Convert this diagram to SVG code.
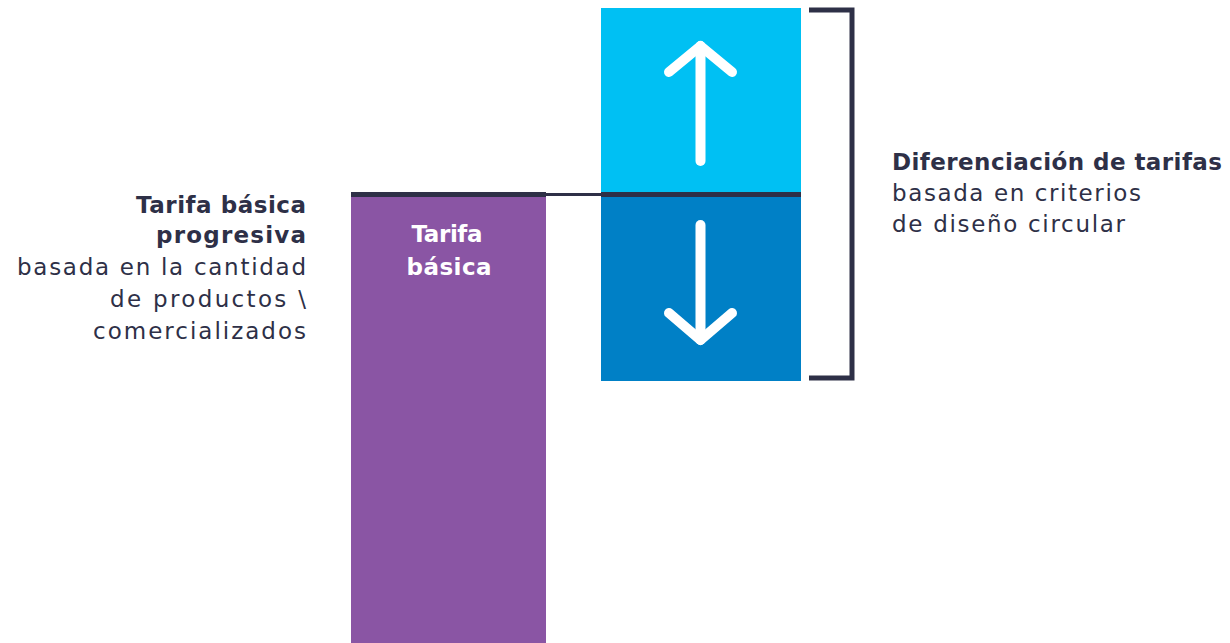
<svg xmlns="http://www.w3.org/2000/svg" width="1230" height="643" viewBox="0 0 1230 643">
<style>
.t{font-family:"DejaVu Sans","Noto Sans",sans-serif;font-size:23px;fill:#2E3047}
.b{font-weight:bold}
.w{fill:#FFFFFF;font-weight:bold}
.arr{fill:none;stroke:#FFFFFF;stroke-width:10;stroke-linecap:round;stroke-linejoin:round}
</style>
<rect width="1230" height="643" fill="#FFFFFF"/>
<g id="basic-bar">
<rect x="351" y="195" width="195" height="448" fill="#8A55A4"/>
<text class="t w" x="447" y="242" text-anchor="middle" textLength="71" lengthAdjust="spacing">Tarifa</text>
<text class="t w" x="449" y="275" text-anchor="middle" textLength="85" lengthAdjust="spacing">básica</text>
</g>
<g id="up-box">
<rect x="601" y="8" width="200" height="186" fill="#00C0F3"/>
<path class="arr" d="M700.5 161V46" stroke-linecap="butt"/>
<path class="arr" d="M669 72L700.5 46L732 72"/>
</g>
<g id="down-box">
<rect x="601" y="194" width="200" height="187" fill="#0080C6"/>
<path class="arr" d="M700.5 225V340" stroke-linecap="butt"/>
<path class="arr" d="M669 313L700.5 340L732 313"/>
</g>
<g id="connectors">
<line x1="351" y1="194.5" x2="546" y2="194.5" stroke="#2E3047" stroke-width="5"/>
<line x1="546" y1="194.5" x2="601" y2="194.5" stroke="#2E3047" stroke-width="3"/>
<line x1="601" y1="194.5" x2="801" y2="194.5" stroke="#2E3047" stroke-width="5"/>
<path d="M809 10H852V378H809" fill="none" stroke="#2E3047" stroke-width="5"/>
</g>
<g id="left-label">
<text class="t b" x="306" y="213" text-anchor="end" textLength="170" lengthAdjust="spacing">Tarifa básica</text>
<text class="t b" x="306" y="243" text-anchor="end" textLength="150" lengthAdjust="spacing">progresiva</text>
<text class="t" x="306" y="275" text-anchor="end" textLength="289" lengthAdjust="spacing">basada en la cantidad</text>
<text class="t" x="306" y="307" text-anchor="end" textLength="196" lengthAdjust="spacing">de productos \</text>
<text class="t" x="306" y="339" text-anchor="end" textLength="213" lengthAdjust="spacing">comercializados</text>
</g>
<g id="right-label">
<text class="t b" x="892" y="170" textLength="330" lengthAdjust="spacing">Diferenciación de tarifas</text>
<text class="t" x="892" y="201" textLength="249" lengthAdjust="spacing">basada en criterios</text>
<text class="t" x="892" y="232" textLength="233" lengthAdjust="spacing">de diseño circular</text>
</g>
</svg>
